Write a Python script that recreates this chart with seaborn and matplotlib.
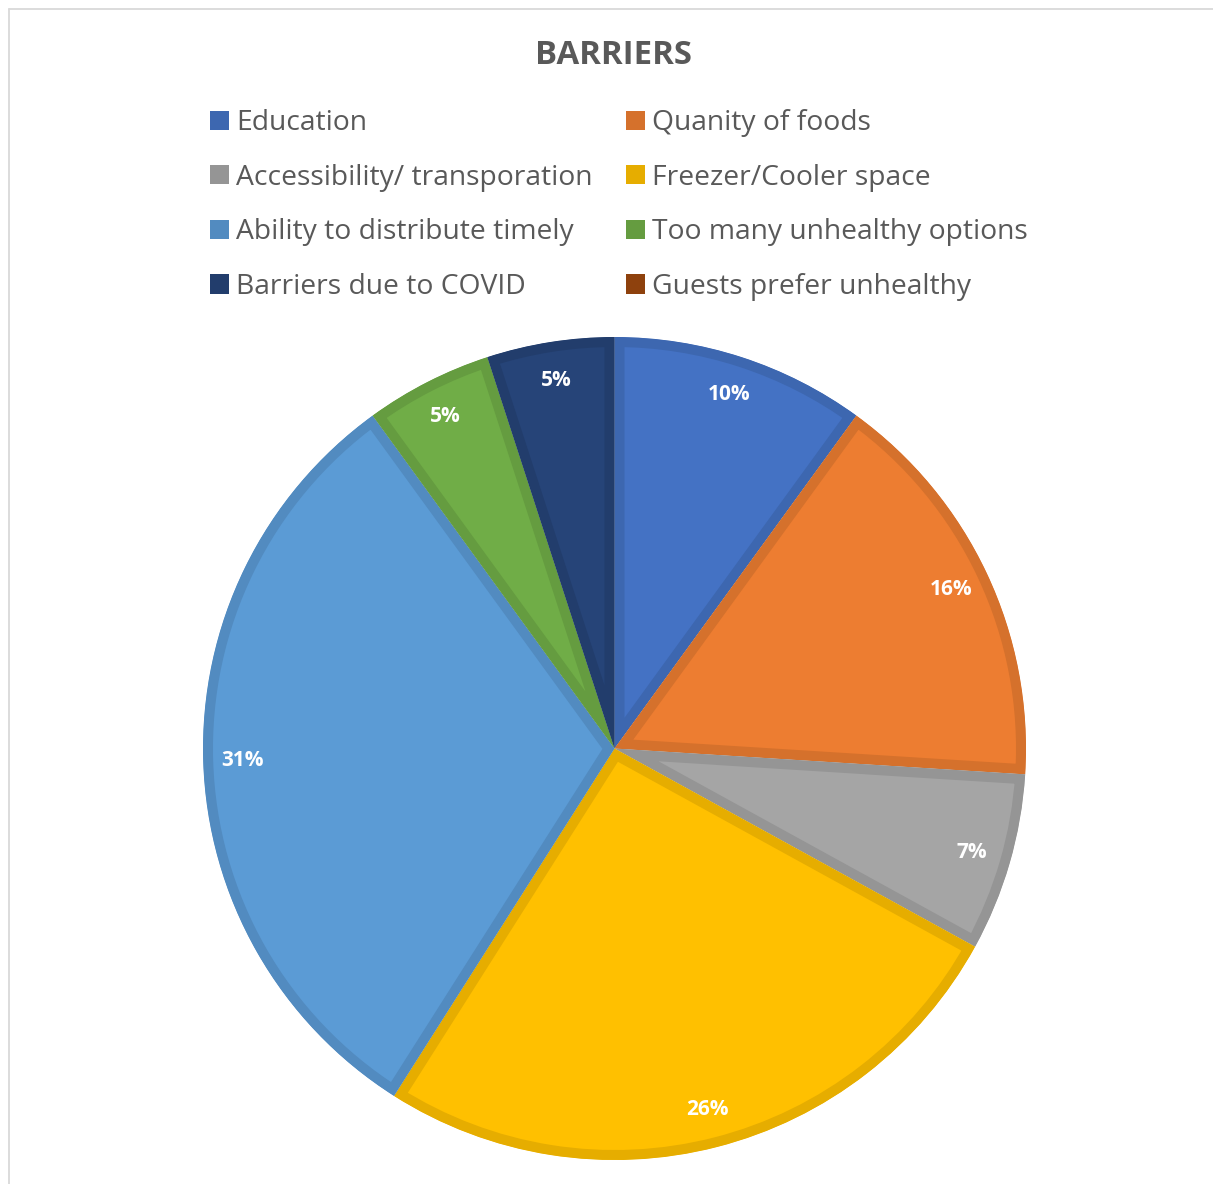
import matplotlib
matplotlib.use("Agg")
import matplotlib.pyplot as plt
from matplotlib.patches import Patch
from matplotlib.lines import Line2D
import seaborn as sns

# Survey: barriers reported by food pantries (share of responses, %)
categories = [
    "Education",
    "Quanity of foods",
    "Accessibility/ transporation",
    "Freezer/Cooler space",
    "Ability to distribute timely",
    "Too many unhealthy options",
    "Barriers due to COVID",
    "Guests prefer unhealthy",
]
shares = [10, 16, 7, 26, 31, 5, 5, 0]
fill_hex = ["#4472C4", "#ED7D31", "#A5A5A5", "#FFC000",
            "#5B9BD5", "#70AD47", "#264478", "#9E480E"]
title_text = "BARRIERS"

sns.set_theme(style="white")
plt.rcParams["font.family"] = ["Open Sans", "DejaVu Sans"]

fills = sns.color_palette(fill_hex)
edges = [tuple(c * 0.9 for c in col) for col in fills]

W, H, DPI = 1213, 1184, 100
fig = plt.figure(figsize=(W / DPI, H / DPI), dpi=DPI)
fig.patch.set_facecolor("white")

# pie geometry in pixels
cx, cy, r = 614.5, 748.5, 411.5
ax = fig.add_axes([(cx - r) / W, (H - cy - r) / H, 2 * r / W, 2 * r / H])

# only non-empty slices get a wedge; every category stays in the legend
drawn = [i for i, v in enumerate(shares) if v > 0]
wedges, texts, autotexts = ax.pie(
    [shares[i] for i in drawn],
    colors=[fills[i] for i in drawn],
    startangle=90,
    counterclock=False,
    radius=1.0,
    autopct=lambda p: f"{p:.0f}%",
    pctdistance=0.905,
    textprops=dict(color="white", fontweight="bold", fontsize=15),
    wedgeprops=dict(linewidth=14.4, joinstyle="miter"),
)
# darker inner outline: stroke clipped to the wedge's own shape
for w, i in zip(wedges, drawn):
    w.set_edgecolor(edges[i])
    w.set_clip_on(True)
    w.set_clip_path(w)

ax.set_xlim(-1, 1)
ax.set_ylim(-1, 1)
ax.set_aspect("auto")
ax.axis("off")

# title
fig.text(613.5 / W, 1 - 55 / H, title_text, ha="center", va="center",
         fontsize=23.7, fontweight="bold", color="#595959")

# legend in two columns, filled row by row
handles = [Patch(facecolor=ec, edgecolor="none") for ec in edges]
order = [0, 2, 4, 6, 1, 3, 5, 7]
leg = fig.legend(
    [handles[i] for i in order], [categories[i] for i in order],
    ncol=2, loc="upper left",
    bbox_to_anchor=(210 / W, 1 - 109 / H),
    frameon=False, fontsize=20.3,
    handlelength=0.67, handleheight=0.67, handletextpad=0.25,
    columnspacing=1.2, labelspacing=0.945, borderpad=0, borderaxespad=0,
)
for t in leg.get_texts():
    t.set_color("#595959")

# chart-area border
bc = "#D9D9D9"
fig.add_artist(Line2D([8.5 / W, 8.5 / W], [0, 1 - 8.5 / H], color=bc, lw=1.3,
                      transform=fig.transFigure))
fig.add_artist(Line2D([8.5 / W, 1], [1 - 8.5 / H, 1 - 8.5 / H], color=bc, lw=1.3,
                      transform=fig.transFigure))

fig.savefig("out.png", dpi=DPI, facecolor="white")
